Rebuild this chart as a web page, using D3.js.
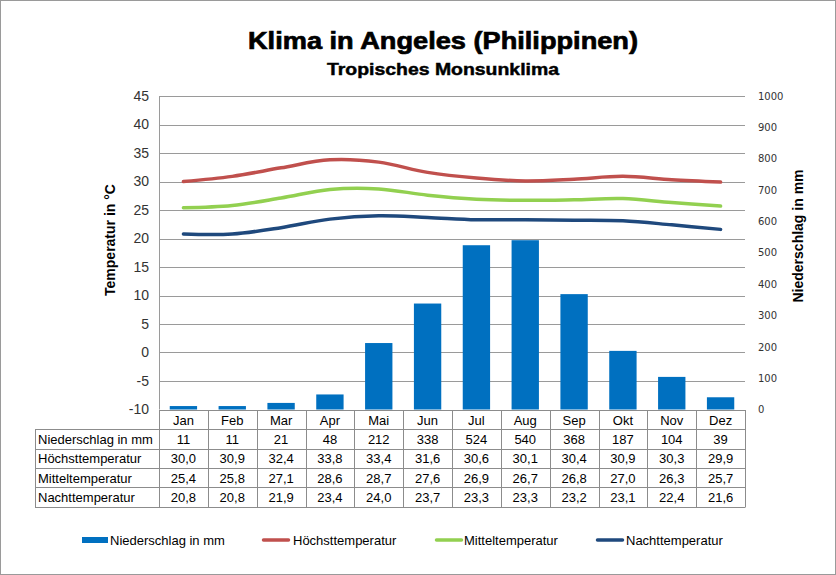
<!DOCTYPE html>
<html><head><meta charset="utf-8">
<script src="https://cdn.jsdelivr.net/npm/d3@7/dist/d3.min.js"></script>
<style>body{margin:0;background:#fff}svg{display:block}</style>
</head><body>
<script>
const months = ["Jan","Feb","Mar","Apr","Mai","Jun","Jul","Aug","Sep","Okt","Nov","Dez"];
const niederschlag = [11,11,21,48,212,338,524,540,368,187,104,39];
const hoechst = [30.0,30.9,32.4,33.8,33.4,31.6,30.6,30.1,30.4,30.9,30.3,29.9];
const mittel = [25.4,25.8,27.1,28.6,28.7,27.6,26.9,26.7,26.8,27.0,26.3,25.7];
const nacht = [20.8,20.8,21.9,23.4,24.0,23.7,23.3,23.3,23.2,23.1,22.4,21.6];
const tempTicks = [-10,-5,0,5,10,15,20,25,30,35,40,45];
const precTicks = [0,100,200,300,400,500,600,700,800,900,1000];
const seriesNames = ["Niederschlag in mm","Höchsttemperatur","Mitteltemperatur","Nachttemperatur"];
const colors = ["#0070C0","#C0504D","#92D050","#1F497D"];

const W=836,H=575;
const L=159,R=745,T=96,B=409.5;
const svg=d3.select("body").append("svg").attr("width",W).attr("height",H);
svg.append("rect").attr("x",0.5).attr("y",0.5).attr("width",W-1).attr("height",H-1).attr("fill","#fff").attr("stroke","#9a9a9a");

const x=d3.scaleBand().domain(months).range([L,R]);
const yT=d3.scaleLinear().domain([-10,45]).range([B,T]);
const yP=d3.scaleLinear().domain([0,1000]).range([B,T]);
const font="Liberation Sans, Arial, sans-serif";

// title
svg.append("text").attr("x",248).attr("y",48.5).attr("font-family",font).attr("font-weight","bold").attr("font-size",24)
  .attr("textLength",390).attr("lengthAdjust","spacingAndGlyphs").attr("stroke","#000").attr("stroke-width",0.7).text("Klima in Angeles (Philippinen)");
svg.append("text").attr("x",327).attr("y",75).attr("font-family",font).attr("font-weight","bold").attr("font-size",16.5)
  .attr("textLength",232).attr("lengthAdjust","spacingAndGlyphs").attr("stroke","#000").attr("stroke-width",0.45).text("Tropisches Monsunklima");

// gridlines
svg.append("g").selectAll("line").data(tempTicks.filter(d=>d>-10)).join("line")
  .attr("x1",L).attr("x2",R).attr("y1",d=>Math.round(yT(d))+0.5).attr("y2",d=>Math.round(yT(d))+0.5)
  .attr("stroke","#9a9a9a").attr("stroke-width",1);

// left axis
const ga=svg.append("g").attr("transform",`translate(${L},0)`).call(d3.axisLeft(yT).tickValues(tempTicks).tickSize(0).tickPadding(10).tickFormat(d=>String(d)));
ga.select(".domain").remove();
ga.selectAll("text").attr("font-family",font).attr("font-size",14).attr("fill","#333");
svg.append("line").attr("x1",L+0.5).attr("x2",L+0.5).attr("y1",T).attr("y2",B).attr("stroke","#9a9a9a");

// right axis
const gr=svg.append("g").attr("transform",`translate(${R},0)`).call(d3.axisRight(yP).tickValues(precTicks).tickSize(0).tickPadding(13).tickFormat(d=>String(d)));
gr.select(".domain").remove();
gr.selectAll("text").attr("font-family","DejaVu Sans, Verdana, sans-serif").attr("font-size",10).attr("fill","#333");

// axis titles
svg.append("text").attr("transform","translate(115,240) rotate(-90)").attr("text-anchor","middle").attr("font-family",font).attr("font-weight","bold").attr("font-size",14).text("Temperatur in °C");
svg.append("text").attr("transform","translate(803,236) rotate(-90)").attr("text-anchor","middle").attr("font-family",font).attr("font-weight","bold").attr("font-size",14).text("Niederschlag in mm");

// bars
const bw=x.bandwidth()*0.56;
svg.append("g").selectAll("rect").data(niederschlag).join("rect")
  .attr("x",(d,i)=>x(months[i])+(x.bandwidth()-bw)/2).attr("width",bw)
  .attr("y",d=>yP(d)).attr("height",d=>B-yP(d)).attr("fill",colors[0]);

// lines
const line=d3.line().x((d,i)=>x(months[i])+x.bandwidth()/2).y(d=>yT(d)).curve(d3.curveCatmullRom.alpha(0.5));
[hoechst,mittel,nacht].forEach((s,k)=>{
  svg.append("path").attr("d",line(s)).attr("fill","none").attr("stroke",colors[k+1]).attr("stroke-width",3.5).attr("stroke-linecap","round");
});

// table
const rowH=19.3, tTop=410, tl=35;
const tg=svg.append("g");
const rows=[niederschlag.map(String),hoechst.map(v=>v.toFixed(1).replace(".",",")),mittel.map(v=>v.toFixed(1).replace(".",",")),nacht.map(v=>v.toFixed(1).replace(".",","))];
const bc="#8c8c8c";
for(let r=0;r<=5;r++){
  const yy=Math.round(tTop+r*rowH)+0.5;
  tg.append("line").attr("x1",r<=0?L:tl).attr("x2",R).attr("y1",yy).attr("y2",yy).attr("stroke",bc);
}
tg.append("line").attr("x1",tl+0.5).attr("x2",tl+0.5).attr("y1",Math.round(tTop+rowH)+0.5).attr("y2",Math.round(tTop+5*rowH)+0.5).attr("stroke",bc);
months.forEach((m,i)=>{
  const xx=Math.round(x(m))+0.5;
  tg.append("line").attr("x1",xx).attr("x2",xx).attr("y1",tTop).attr("y2",Math.round(tTop+5*rowH)+0.5).attr("stroke",bc);
});
tg.append("line").attr("x1",R+0.5).attr("x2",R+0.5).attr("y1",tTop).attr("y2",Math.round(tTop+5*rowH)+0.5).attr("stroke",bc);
months.forEach((m,i)=>{
  tg.append("text").attr("x",x(m)+x.bandwidth()/2).attr("y",tTop+rowH/2+5).attr("text-anchor","middle").attr("font-family",font).attr("font-size",13).text(m);
});
rows.forEach((row,r)=>{
  const cy=tTop+(r+1)*rowH+rowH/2+5;
  tg.append("text").attr("x",tl+3).attr("y",cy).attr("font-family",font).attr("font-size",13).text(seriesNames[r]);
  row.forEach((v,i)=>{
    tg.append("text").attr("x",x(months[i])+x.bandwidth()/2).attr("y",cy).attr("text-anchor","middle").attr("font-family",font).attr("font-size",13).text(v);
  });
});

// legend
const lg=svg.append("g");
const items=[{x:82,tx:110,t:"rect"},{x:262,tx:293,t:"line"},{x:435,tx:464,t:"line"},{x:596,tx:626,t:"line"}];
items.forEach((it,k)=>{
  if(it.t==="rect") lg.append("rect").attr("x",it.x).attr("y",537).attr("width",26).attr("height",6).attr("fill",colors[k]);
  else lg.append("line").attr("x1",it.x+1.5).attr("x2",it.x+26.5).attr("y1",540).attr("y2",540).attr("stroke",colors[k]).attr("stroke-width",3.5).attr("stroke-linecap","round");
  lg.append("text").attr("x",it.tx).attr("y",545).attr("font-family",font).attr("font-size",13).text(seriesNames[k]);
});
</script>
</body></html>
